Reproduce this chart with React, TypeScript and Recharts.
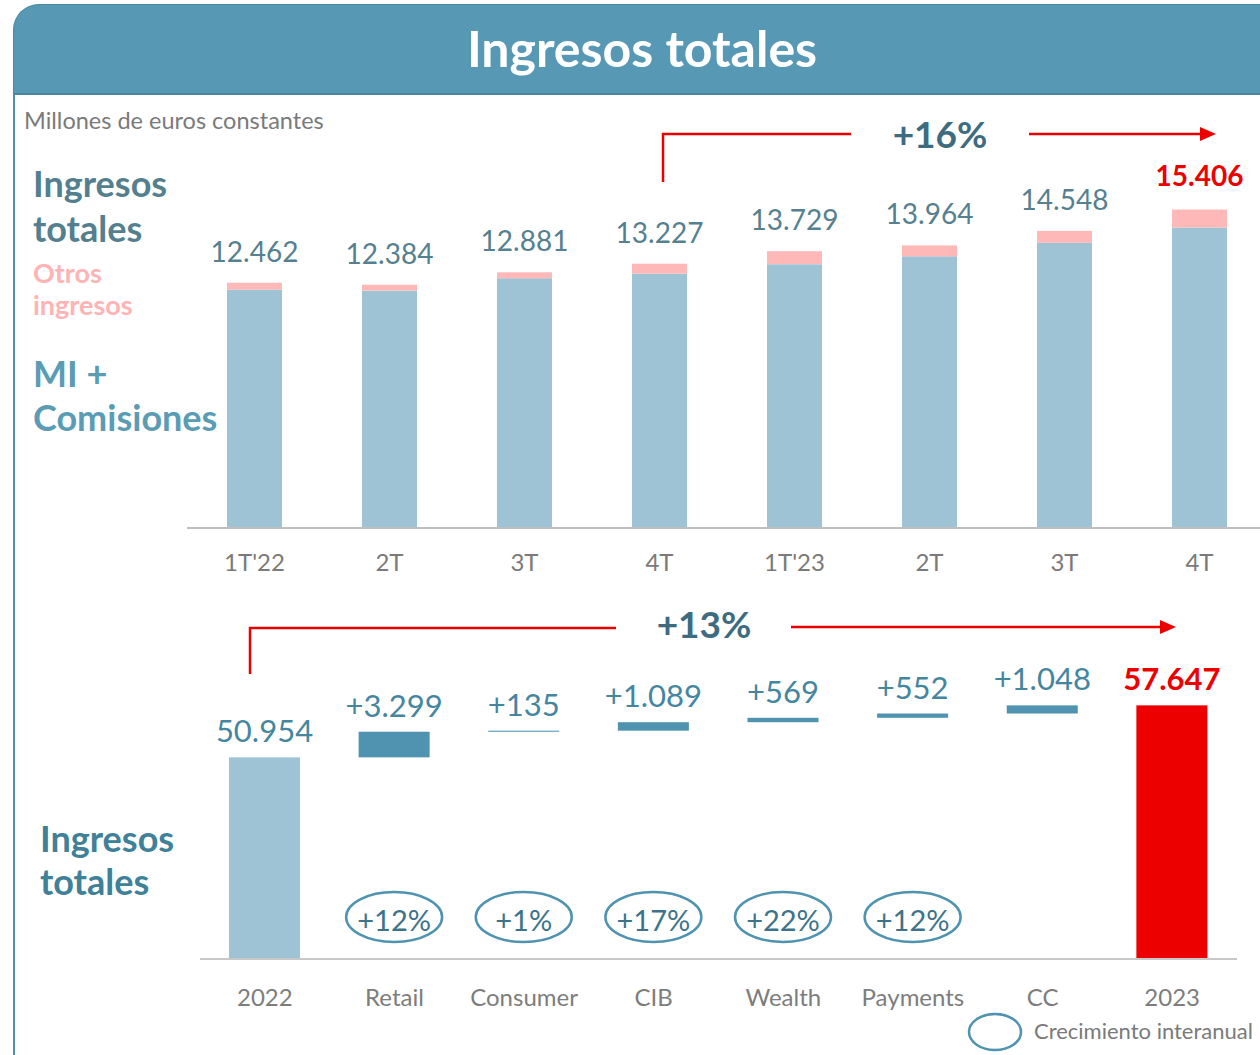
import { BarChart, Bar, XAxis, YAxis } from 'recharts'

// trimestres (gráfico superior)
const trimestres = ["1T'22", '2T', '3T', '4T', "1T'23", '2T', '3T', '4T']
const ingresosTotales = [12462, 12384, 12881, 13227, 13729, 13964, 14548, 15406]
const otrosIngresos = [280, 240, 240, 400, 520, 440, 480, 720]

// puente 2022 -> 2023 (gráfico inferior)
const pasos = ['2022', 'Retail', 'Consumer', 'CIB', 'Wealth', 'Payments', 'CC', '2023']
const importes = [50954, 3299, 135, 1089, 569, 552, 1048, 57647]
const crecimiento = ['', '+12%', '+1%', '+17%', '+22%', '+12%', '', '']

const FONT = 'Lato, "Open Sans", sans-serif'
const RED = '#ec0000'
const LIGHT_BLUE = '#9dc3d4'
const PINK = '#ffb8b8'
const TEAL = '#4f93b0'
const ELLIPSE_Y = 277 // centro de los óvalos, en coordenadas del gráfico inferior

const fmt = (v: number) => String(v).replace(/\B(?=(\d{3})+(?!\d))/g, '.')

const quarterData = trimestres.map((t, i) => ({
  t,
  idx: i,
  mi: ingresosTotales[i] - otrosIngresos[i],
  otros: otrosIngresos[i],
  total: ingresosTotales[i],
}))

let acc = 0
const bridgeData = pasos.map((p, i) => {
  const isTotal = i === 0 || i === pasos.length - 1
  const base = isTotal ? 0 : acc
  if (i === 0) acc = importes[i]
  else if (!isTotal) acc += importes[i]
  return {
    p,
    base,
    value: importes[i],
    isTotal,
    last: i === pasos.length - 1,
    growth: crecimiento[i],
  }
})

function QuarterTop(props: any) {
  const { x, y, width, height, payload } = props
  const last = payload.idx === ingresosTotales.length - 1
  return (
    <g>
      <rect x={x} y={y} width={width} height={height} fill={PINK} />
      <text
        x={x + width / 2}
        y={last ? y - 24 : y - 21}
        textAnchor="middle"
        fontSize={28}
        fontWeight={last ? 700 : 400}
        fill={last ? RED : '#55808f'}
        fontFamily={FONT}
      >
        {fmt(payload.total)}
      </text>
    </g>
  )
}

function BridgeBar(props: any) {
  const { x, y, width, height, payload } = props
  const fill = payload.last ? RED : payload.isTotal ? LIGHT_BLUE : TEAL
  const cx = x + width / 2
  const label = payload.isTotal ? fmt(payload.value) : '+' + fmt(payload.value)
  return (
    <g>
      <rect x={x} y={y} width={width} height={Math.max(height, 1)} fill={fill} />
      <text
        x={cx}
        y={y - 15}
        textAnchor="middle"
        fontSize={31}
        fontWeight={payload.last ? 700 : 400}
        fill={payload.last ? RED : '#4486a0'}
        fontFamily={FONT}
      >
        {label}
      </text>
      {payload.growth && (
        <g>
          <ellipse cx={cx} cy={ELLIPSE_Y} rx={48} ry={25} fill="none" stroke={TEAL} strokeWidth={2.5} />
          <text x={cx} y={ELLIPSE_Y + 14} textAnchor="middle" fontSize={29} fill="#3c7389" fontFamily={FONT}>
            {payload.growth}
          </text>
        </g>
      )}
    </g>
  )
}

export default function App() {
  return (
    <div
      style={{
        position: 'absolute',
        left: 0,
        top: 0,
        width: 1260,
        height: 1055,
        overflow: 'hidden',
        background: '#fff',
        fontFamily: FONT,
      }}
    >
      {/* cabecera */}
      <div
        style={{
          position: 'absolute',
          left: 13,
          top: 4,
          width: 1300,
          height: 91,
          background: '#5799b5',
          borderTopLeftRadius: 26,
          borderTop: '1px solid #4b88a2',
          borderLeft: '1px solid #4b88a2',
          borderBottom: '2px solid #4a86a0',
          boxSizing: 'border-box',
        }}
      />
      <div style={{ position: 'absolute', left: 13, top: 94, width: 2, height: 961, background: '#4e8fab' }} />

      <div style={{ position: 'absolute', left: 0, top: 100 }}>
        <BarChart
          width={1270}
          height={490}
          data={quarterData}
          margin={{ top: 50, right: 3, bottom: 0, left: 187 }}
          barSize={55}
        >
          <XAxis
            dataKey="t"
            height={62}
            interval={0}
            tickLine={false}
            axisLine={{ stroke: '#bfbfbf', strokeWidth: 2 }}
            tickMargin={20}
            tick={{ fontSize: 24, fill: '#7a7a7a', fontFamily: FONT }}
          />
          <YAxis hide domain={[2600, 17800]} allowDataOverflow />
          <Bar dataKey="mi" stackId="q" fill={LIGHT_BLUE} isAnimationActive={false} />
          <Bar dataKey="otros" stackId="q" fill={PINK} isAnimationActive={false} shape={QuarterTop} />
        </BarChart>
      </div>

      <div style={{ position: 'absolute', left: 0, top: 640 }}>
        <BarChart
          width={1260}
          height={379}
          data={bridgeData}
          margin={{ top: 16, right: 23, bottom: 0, left: 200 }}
          barSize={71}
        >
          <XAxis
            dataKey="p"
            height={60}
            interval={0}
            tickLine={false}
            axisLine={{ stroke: '#c8c8c8', strokeWidth: 2 }}
            tickMargin={24}
            tick={{ fontSize: 24, fill: '#7d7d7d', fontFamily: FONT }}
          />
          <YAxis hide domain={[25000, 64000]} allowDataOverflow />
          <Bar dataKey="base" stackId="w" fill="none" isAnimationActive={false} />
          <Bar dataKey="value" stackId="w" isAnimationActive={false} shape={BridgeBar} />
        </BarChart>
      </div>

      {/* textos y flechas */}
      <svg
        width={1260}
        height={1055}
        style={{ position: 'absolute', left: 0, top: 0, pointerEvents: 'none' }}
        fontFamily={FONT}
      >
        <text x={642} y={67} textAnchor="middle" fontSize={50} fontWeight={700} fill="#fff">
          Ingresos totales
        </text>
        <text x={24} y={129} fontSize={23.5} fill="#7a7a7a">
          Millones de euros constantes
        </text>

        <g fontSize={36} fontWeight={700}>
          <text x={33} y={197} fill="#537f8f">Ingresos</text>
          <text x={33} y={242} fill="#537f8f">totales</text>
          <text x={33} y={387} fill="#5b9cb5">MI +</text>
          <text x={33} y={431} fill="#5b9cb5">Comisiones</text>
          <text x={40} y={852} fill="#3e8199">Ingresos</text>
          <text x={40} y={895} fill="#3e8199">totales</text>
        </g>
        <g fontSize={27} fontWeight={700} fill="#ffb3b3">
          <text x={33} y={283}>Otros</text>
          <text x={33} y={315}>ingresos</text>
        </g>

        <g stroke={RED} strokeWidth={2.5} fill="none">
          <path d="M663,182 V134 H851" />
          <path d="M1029,134 H1203" />
          <path d="M250,674 V628 H616" />
          <path d="M791,627 H1162" />
        </g>
        <polygon points="1200,127 1216,134 1200,141" fill={RED} />
        <polygon points="1160,620 1176,627 1160,634" fill={RED} />
        <text x={940} y={148} textAnchor="middle" fontSize={37} fontWeight={700} fill="#3d6b80">
          +16%
        </text>
        <text x={704} y={638} textAnchor="middle" fontSize={37} fontWeight={700} fill="#3d6b80">
          +13%
        </text>

        <ellipse cx={995} cy={1032} rx={26} ry={18} fill="none" stroke={TEAL} strokeWidth={2.5} />
        <text x={1034} y={1039} fontSize={22} fill="#7a7a7a">
          Crecimiento interanual
        </text>
      </svg>
    </div>
  )
}
